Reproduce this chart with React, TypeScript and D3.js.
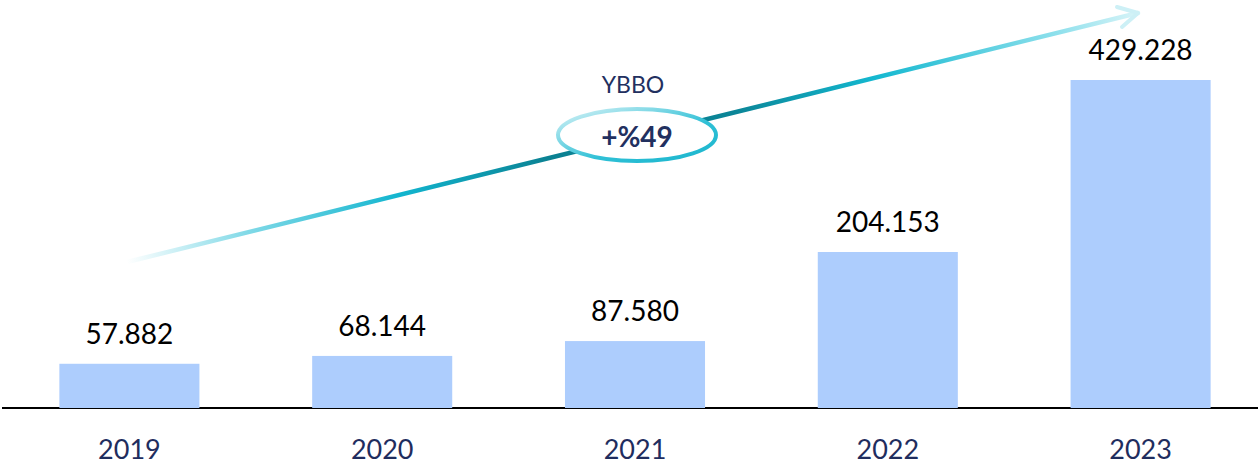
import React from "react";
import * as d3 from "d3";

const years = ["2019", "2020", "2021", "2022", "2023"];
const values = [57.882, 68.144, 87.58, 204.153, 429.228];
const valueLabels = ["57.882", "68.144", "87.580", "204.153", "429.228"];
const cagrTitle = "YBBO";
const cagrLabel = "+%49";

const W = 1258;
const H = 466;
const baseY = 408;

export default function App() {
  const x = d3.scaleBand<string>().domain(years).range([3, 1267]).paddingInner(0.446).paddingOuter(0.223);
  const y = d3.scaleLinear().domain([0, 429.228]).range([baseY, 80]);
  const font = "Lato, 'Open Sans', sans-serif";

  const ax0 = 127, ay0 = 262, ax1 = 1138, ay1 = 13;
  const ex = 637, ey = 135;

  return (
    <svg width={W} height={H} style={{ position: "absolute", left: 0, top: 0 }}>
      <defs>
        <linearGradient id="arrowGrad" gradientUnits="userSpaceOnUse" x1={ax0} y1={ay0} x2={ax1} y2={ay1}>
          <stop offset="0" stopColor="#ffffff" />
          <stop offset="0.12" stopColor="#80d9e7" />
          <stop offset="0.27" stopColor="#12b5cf" />
          <stop offset="0.42" stopColor="#0b8192" />
          <stop offset="0.6" stopColor="#0b8597" />
          <stop offset="0.74" stopColor="#14b8d0" />
          <stop offset="0.92" stopColor="#8ee0ec" />
          <stop offset="1" stopColor="#d8f4f8" />
        </linearGradient>
        <linearGradient id="ellGrad" x1="0" y1="0" x2="1" y2="1">
          <stop offset="0" stopColor="#d9f3f7" />
          <stop offset="0.6" stopColor="#2fc0d6" />
          <stop offset="1" stopColor="#1ab5cd" />
        </linearGradient>
      </defs>
      <line x1={2} x2={1258} y1={baseY} y2={baseY} stroke="#000" strokeWidth={2} />
      {years.map((yr, i) => (
        <g key={yr}>
          <rect x={x(yr)} y={y(values[i])} width={x.bandwidth()} height={baseY - y(values[i])} fill="#adcdfd" />
          <text x={x(yr)! + x.bandwidth() / 2} y={y(values[i]) - 20} textAnchor="middle" fontFamily={font} fontSize={28} fill="#000">
            {valueLabels[i]}
          </text>
          <text x={x(yr)! + x.bandwidth() / 2} y={459} textAnchor="middle" fontFamily={font} fontSize={27} fill="#1f2d5e">
            {yr}
          </text>
        </g>
      ))}
      <line x1={ax0} y1={ay0} x2={ax1} y2={ay1} stroke="url(#arrowGrad)" strokeWidth={4.5} strokeLinecap="round" />
      <polyline points={`1117,7 ${ax1},${ay1} 1122,27`} fill="none" stroke="#cdf0f6" strokeWidth={4} strokeLinecap="round" strokeLinejoin="round" />
      <ellipse cx={ex} cy={ey} rx={79} ry={26} fill="#fff" stroke="url(#ellGrad)" strokeWidth={4} />
      <text x={ex} y={147} textAnchor="middle" fontFamily={font} fontSize={28} fontWeight="bold" fill="#22305f">
        {cagrLabel}
      </text>
      <text x={633} y={93} textAnchor="middle" fontFamily={font} fontSize={23} fill="#22305f">
        {cagrTitle}
      </text>
    </svg>
  );
}
